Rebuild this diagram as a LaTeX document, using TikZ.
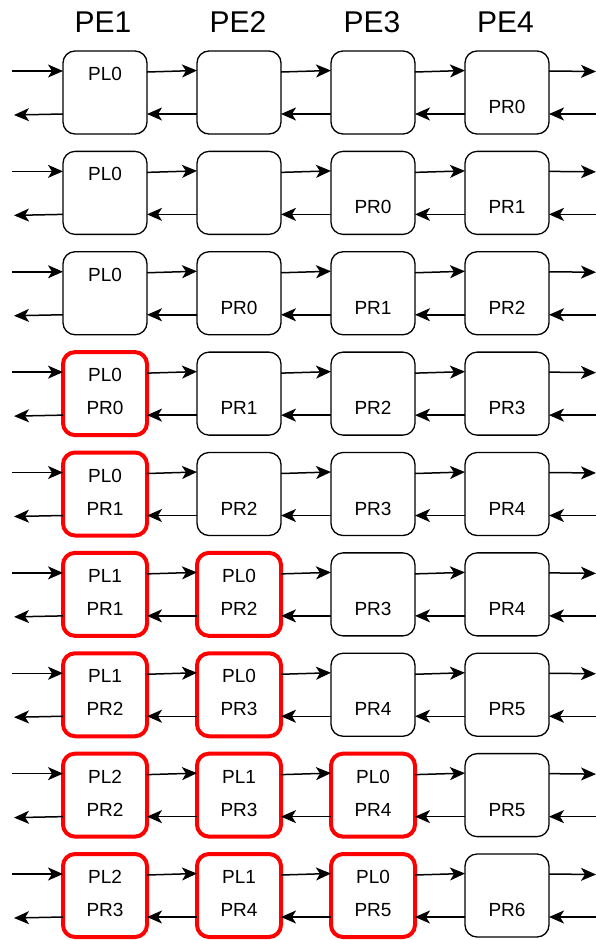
\documentclass[tikz,border=0pt]{standalone}
\usepackage{fontspec}
\setmainfont{Liberation Sans}
\usetikzlibrary{arrows.meta,calc}
\tikzset{
  pebox/.style={draw=black, line width=1.3pt, rounded corners=12pt, minimum width=84pt, minimum height=83pt, inner sep=0pt, outer sep=0pt, fill=white},
  hotbox/.style={pebox, draw=red, line width=4pt},
  lbl/.style={font=\fontsize{19}{19}\selectfont, anchor=base, inner sep=0pt},
  hdr/.style={font=\fontsize{30}{30}\selectfont, inner sep=0pt},
  flowarrow/.style={-{Stealth[length=15pt,width=13pt,inset=4pt]}, line width=1.5pt},
}
\newcommand\PEcell[5]{%
  \node[#3] (b#1#2) at ({105+134*(#2-1)}, {-(92.5+100.375*(#1-1))}) {};
  \if\relax\detokenize{#4}\relax\else
    \node[lbl] (t#1#2) at ($(b#1#2.north)+(0,-29.5)$) {#4};\fi
  \if\relax\detokenize{#5}\relax\else
    \node[lbl] (u#1#2) at ($(b#1#2.north)+(0,-62.5)$) {#5};\fi
}
\begin{document}
\begin{tikzpicture}[x=1pt,y=1pt]
\useasboundingbox (0,0) rectangle (596,-940);
\node[hdr] (h1) at (103,-22.5) {PE1};
\node[hdr] (h2) at (238,-22.5) {PE2};
\node[hdr] (h3) at (372,-22.5) {PE3};
\node[hdr] (h4) at (505.5,-22.5) {PE4};
% row 1
\PEcell{1}{1}{pebox}{PL0}{}
\PEcell{1}{2}{pebox}{}{}
\PEcell{1}{3}{pebox}{}{}
\PEcell{1}{4}{pebox}{}{PR0}
% row 2
\PEcell{2}{1}{pebox}{PL0}{}
\PEcell{2}{2}{pebox}{}{}
\PEcell{2}{3}{pebox}{}{PR0}
\PEcell{2}{4}{pebox}{}{PR1}
% row 3
\PEcell{3}{1}{pebox}{PL0}{}
\PEcell{3}{2}{pebox}{}{PR0}
\PEcell{3}{3}{pebox}{}{PR1}
\PEcell{3}{4}{pebox}{}{PR2}
% row 4
\PEcell{4}{1}{hotbox}{PL0}{PR0}
\PEcell{4}{2}{pebox}{}{PR1}
\PEcell{4}{3}{pebox}{}{PR2}
\PEcell{4}{4}{pebox}{}{PR3}
% row 5
\PEcell{5}{1}{hotbox}{PL0}{PR1}
\PEcell{5}{2}{pebox}{}{PR2}
\PEcell{5}{3}{pebox}{}{PR3}
\PEcell{5}{4}{pebox}{}{PR4}
% row 6
\PEcell{6}{1}{hotbox}{PL1}{PR1}
\PEcell{6}{2}{hotbox}{PL0}{PR2}
\PEcell{6}{3}{pebox}{}{PR3}
\PEcell{6}{4}{pebox}{}{PR4}
% row 7
\PEcell{7}{1}{hotbox}{PL1}{PR2}
\PEcell{7}{2}{hotbox}{PL0}{PR3}
\PEcell{7}{3}{pebox}{}{PR4}
\PEcell{7}{4}{pebox}{}{PR5}
% row 8
\PEcell{8}{1}{hotbox}{PL2}{PR2}
\PEcell{8}{2}{hotbox}{PL1}{PR3}
\PEcell{8}{3}{hotbox}{PL0}{PR4}
\PEcell{8}{4}{pebox}{}{PR5}
% row 9
\PEcell{9}{1}{hotbox}{PL2}{PR3}
\PEcell{9}{2}{hotbox}{PL1}{PR4}
\PEcell{9}{3}{hotbox}{PL0}{PR5}
\PEcell{9}{4}{pebox}{}{PR6}
% connectors
\foreach \r in {1,...,9} {
  \coordinate (inL\r) at ($(b\r1.north west)+(-51,-20)$);
  \coordinate (outL\r) at ($(b\r1.south west)+(-49,19)$);
  \coordinate (outR\r) at ($(b\r4.north east)+(47,-20.5)$);
  \coordinate (inR\r) at ($(b\r4.south east)+(47,20)$);
  \draw[flowarrow] (inL\r) -- ($(b\r1.north west)+(0,-20)$);
  \draw[flowarrow] ($(b\r1.south west)+(0,20)$) -- (outL\r);
  \draw[flowarrow] ($(b\r4.north east)+(0,-20)$) -- (outR\r);
  \draw[flowarrow] (inR\r) -- ($(b\r4.south east)+(0,20)$);
  \foreach \c in {1,2,3} {
    \pgfmathtruncatemacro\n{\c+1}
    \draw[flowarrow] ($(b\r\c.north east)+(0,-21)$) -- ($(b\r\n.north west)+(0,-19.5)$);
    \draw[flowarrow] ($(b\r\n.south west)+(0,20)$) -- ($(b\r\c.south east)+(0,20)$);
  }
}
\end{tikzpicture}
\end{document}
